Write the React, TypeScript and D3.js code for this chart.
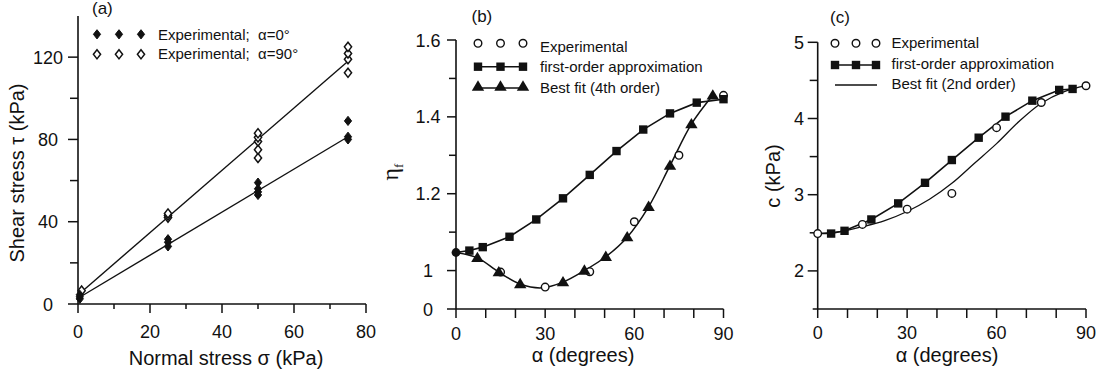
import React from "react";
import * as d3 from "d3";

// ---------- Panel (a): shear stress vs normal stress ----------
const sigmaA0 = [0.5, 0.5, 0.5, 25, 25, 25, 50, 50, 50, 50, 75, 75, 75];
const tauA0 = [2.5, 3.5, 4.5, 28, 30, 31.5, 53, 54.5, 56, 59, 80, 81.3, 89];
const sigmaA90 = [1, 25, 25, 25, 50, 50, 50, 50, 50, 75, 75, 75, 75];
const tauA90 = [6.5, 42, 43, 44, 71, 75, 79, 81, 83, 112.4, 119, 121.8, 125];
const fitSigma = [0, 75];
const fitTau0 = [2.8, 81.3];
const fitTau90 = [4.4, 118];
const xTicksA = [0, 20, 40, 60, 80];
const xMinorA = [10, 30, 50, 70];
const yTicksA = [0, 40, 80, 120];
const yMinorA = [20, 60, 100];

// ---------- Panel (b): eta_f vs alpha ----------
const expAlphaB = [15, 30, 45, 60, 75, 90];
const expEtaB = [0.996, 0.957, 0.997, 1.127, 1.3, 1.456];
const originEtaB = 1.047;
const firstAlphaB = [4.5, 9, 18, 27, 36, 45, 54, 63, 72, 81, 90];
const firstEtaB = [1.052, 1.061, 1.088, 1.133, 1.188, 1.249, 1.311, 1.367, 1.409, 1.437, 1.446];
const fitAlphaB = [7.2, 14.4, 21.6, 36, 43.2, 50.4, 57.6, 64.8, 72, 79.2, 86.4];
const fitEtaB = [1.033, 0.996, 0.965, 0.97, 1.0, 1.036, 1.087, 1.166, 1.273, 1.381, 1.456];
const curveAlphaB = [0, 7.2, 14.4, 21.6, 28.8, 36, 43.2, 50.4, 57.6, 64.8, 72, 79.2, 86.4];
const curveEtaB = [1.047, 1.033, 0.996, 0.965, 0.955, 0.97, 1.0, 1.036, 1.087, 1.166, 1.273, 1.381, 1.456];
const yTicksB = [0.9, 1, 1.2, 1.4, 1.6];
const yTickLabelsB = ["0", "1", "1.2", "1.4", "1.6"];
const yMinorB = [1.1, 1.3, 1.5];

// ---------- Panel (c): cohesion vs alpha ----------
const expAlphaC = [0, 15, 30, 45, 60, 75, 90];
const expCC = [2.49, 2.61, 2.81, 3.017, 3.88, 4.21, 4.43];
const firstAlphaC = [4.5, 9, 18, 27, 36, 45, 54, 63, 72, 81, 85.5];
const firstCC = [2.49, 2.526, 2.675, 2.886, 3.156, 3.455, 3.748, 4.024, 4.234, 4.375, 4.388];
const fitAlphaC = [0, 7.5, 15, 22.5, 30, 37.5, 45, 52.5, 60, 67.5, 75, 82.5, 90];
const fitCC = [2.49, 2.515, 2.58, 2.66, 2.78, 2.94, 3.15, 3.41, 3.67, 3.96, 4.2, 4.35, 4.43];
const yTicksC = [2, 3, 4, 5];
const yMinorC = [2.5, 3.5, 4.5];

const alphaTicks = [0, 10, 20, 30, 40, 50, 60, 70, 80, 90];
const alphaLabels = [0, 30, 60, 90];

const INK = "#111";
const SANS = "'Liberation Sans', Arial, Helvetica, sans-serif";

const diamond = "M0,-4.6L3.6,0L0,4.6L-3.6,0Z";
const triangle = "M0,-6.2L6.2,4.2L-6.2,4.2Z";
const square = "M-4.2,-4.2H4.2V4.2H-4.2Z";

const pairs = (xs: number[], ys: number[]) => xs.map((x, i) => [x, ys[i]] as [number, number]);

export default function App() {
  // scales
  const xA = d3.scaleLinear().domain([0, 80]).range([78, 366]);
  const yA = d3.scaleLinear().domain([0, 140]).range([304, 16]);
  const xB = d3.scaleLinear().domain([0, 90]).range([456, 723.5]);
  const yB = d3.scaleLinear().domain([0.9, 1.6]).range([309, 40]);
  const xC = d3.scaleLinear().domain([0, 90]).range([817.7, 1086]);
  const yC = d3.scaleLinear().domain([1.5, 5]).range([309, 42.3]);

  const lineA = d3.line<[number, number]>().x((d) => xA(d[0])).y((d) => yA(d[1]));
  const lineBStraight = d3.line<[number, number]>().x((d) => xB(d[0])).y((d) => yB(d[1]));
  const lineBSmooth = d3
    .line<[number, number]>()
    .x((d) => xB(d[0]))
    .y((d) => yB(d[1]))
    .curve(d3.curveCatmullRom.alpha(0.5));
  const lineCStraight = d3.line<[number, number]>().x((d) => xC(d[0])).y((d) => yC(d[1]));
  const lineCSmooth = d3
    .line<[number, number]>()
    .x((d) => xC(d[0]))
    .y((d) => yC(d[1]))
    .curve(d3.curveCatmullRom.alpha(0.5));

  const tickFont = 18;
  const titleFont = 20;
  const legendFont = 15;

  return (
    <svg
      width={1102}
      height={379}
      style={{ position: "absolute", left: 0, top: 0, background: "#fff" }}
      fontFamily={SANS}
    >
      <rect x={0} y={0} width={1102} height={379} fill="#fff" />

      {/* ===== Panel (a) ===== */}
      <g>
        <text x={92} y={14} fontSize={17} fill={INK}>(a)</text>
        {/* axes */}
        <line x1={xA(0)} x2={xA(0)} y1={yA(140)} y2={yA(0)} stroke={INK} strokeWidth={1.6} />
        <line x1={xA(0)} x2={xA(80)} y1={yA(0)} y2={yA(0)} stroke={INK} strokeWidth={1.6} />
        {xTicksA.map((t) => (
          <g key={"xa" + t}>
            <line x1={xA(t)} x2={xA(t)} y1={yA(0)} y2={yA(0) + 9} stroke={INK} strokeWidth={1.5} />
            <text x={xA(t)} y={338} fontSize={tickFont} textAnchor="middle" fill={INK}>{t}</text>
          </g>
        ))}
        {xMinorA.map((t) => (
          <line key={"xam" + t} x1={xA(t)} x2={xA(t)} y1={yA(0)} y2={yA(0) + 5} stroke={INK} strokeWidth={1.5} />
        ))}
        {yTicksA.map((t) => (
          <g key={"ya" + t}>
            <line x1={xA(0) - 10} x2={xA(0)} y1={yA(t)} y2={yA(t)} stroke={INK} strokeWidth={1.5} />
            <text x={48} y={yA(t) + 6.5} fontSize={tickFont} textAnchor="middle" fill={INK}>{t}</text>
          </g>
        ))}
        {yMinorA.map((t) => (
          <line key={"yam" + t} x1={xA(0) - 8} x2={xA(0)} y1={yA(t)} y2={yA(t)} stroke={INK} strokeWidth={1.5} />
        ))}
        <text x={226} y={365} fontSize={titleFont} textAnchor="middle" fill={INK}>
          Normal stress σ (kPa)
        </text>
        <text transform="translate(24,173) rotate(-90)" fontSize={titleFont} textAnchor="middle" fill={INK}>
          Shear stress τ (kPa)
        </text>
        {/* fitted lines */}
        <path d={lineA(pairs(fitSigma, fitTau0)) || ""} fill="none" stroke={INK} strokeWidth={1.4} />
        <path d={lineA(pairs(fitSigma, fitTau90)) || ""} fill="none" stroke={INK} strokeWidth={1.4} />
        {/* data */}
        {sigmaA90.map((s, i) => (
          <path key={"o" + i} d={diamond} transform={`translate(${xA(s)},${yA(tauA90[i])})`} fill="#fff" stroke={INK} strokeWidth={1.5} />
        ))}
        {sigmaA0.map((s, i) => (
          <path key={"f" + i} d={diamond} transform={`translate(${xA(s)},${yA(tauA0[i])})`} fill={INK} stroke={INK} strokeWidth={1} />
        ))}
        {/* legend */}
        {[97, 119, 141].map((x) => (
          <path key={"lf" + x} d={diamond} transform={`translate(${x},34.3)`} fill={INK} stroke={INK} strokeWidth={1} />
        ))}
        {[97, 119, 141].map((x) => (
          <path key={"lo" + x} d={diamond} transform={`translate(${x},54.3)`} fill="#fff" stroke={INK} strokeWidth={1.5} />
        ))}
        <text x={158} y={39.5} fontSize={legendFont} fill={INK}>
          {"Experimental;\u00a0\u00a0α=0°"}
        </text>
        <text x={158} y={59} fontSize={legendFont} fill={INK}>
          {"Experimental;\u00a0\u00a0α=90°"}
        </text>
      </g>

      {/* ===== Panel (b) ===== */}
      <g>
        <text x={471.5} y={22} fontSize={17} fill={INK}>(b)</text>
        <line x1={xB(0)} x2={xB(0)} y1={yB(1.6)} y2={yB(0.9)} stroke={INK} strokeWidth={1.6} />
        <line x1={xB(0)} x2={xB(90)} y1={yB(0.9)} y2={yB(0.9)} stroke={INK} strokeWidth={1.6} />
        {alphaTicks.map((t) => (
          <line key={"xb" + t} x1={xB(t)} x2={xB(t)} y1={yB(0.9)} y2={yB(0.9) + 9} stroke={INK} strokeWidth={1.5} />
        ))}
        {alphaLabels.map((t) => (
          <text key={"xbl" + t} x={xB(t)} y={340} fontSize={tickFont} textAnchor="middle" fill={INK}>{t}</text>
        ))}
        {yTicksB.map((t, i) => (
          <g key={"yb" + t}>
            <line x1={xB(0) - 9} x2={xB(0)} y1={yB(t)} y2={yB(t)} stroke={INK} strokeWidth={1.5} />
            <text x={428} y={yB(t) + 6.5} fontSize={tickFont} textAnchor="middle" fill={INK}>{yTickLabelsB[i]}</text>
          </g>
        ))}
        {yMinorB.map((t) => (
          <line key={"ybm" + t} x1={xB(0) - 7} x2={xB(0)} y1={yB(t)} y2={yB(t)} stroke={INK} strokeWidth={1.5} />
        ))}
        <text x={583} y={362} fontSize={titleFont} textAnchor="middle" fill={INK}>α (degrees)</text>
        <text
          transform="translate(398,172) rotate(-90)"
          fontSize={24}
          textAnchor="middle"
          fill={INK}
          fontFamily="'Liberation Serif', 'Times New Roman', serif"
        >
          η<tspan fontSize={13} dy={5}>f</tspan>
        </text>
        {/* curves */}
        <path
          d={lineBStraight(pairs([0, ...firstAlphaB], [originEtaB, ...firstEtaB])) || ""}
          fill="none"
          stroke={INK}
          strokeWidth={1.6}
        />
        <path d={lineBSmooth(pairs(curveAlphaB, curveEtaB)) || ""} fill="none" stroke={INK} strokeWidth={1.5} />
        {/* experimental */}
        {expAlphaB.map((a, i) => (
          <circle key={"eb" + i} cx={xB(a)} cy={yB(expEtaB[i])} r={3.8} fill="#fff" stroke={INK} strokeWidth={1.4} />
        ))}
        <circle cx={xB(0)} cy={yB(originEtaB)} r={4.4} fill={INK} />
        {firstAlphaB.map((a, i) => (
          <path key={"sb" + i} d={square} transform={`translate(${xB(a)},${yB(firstEtaB[i])})`} fill={INK} />
        ))}
        {fitAlphaB.map((a, i) => (
          <path key={"tb" + i} d={triangle} transform={`translate(${xB(a)},${yB(fitEtaB[i])})`} fill={INK} />
        ))}
        {/* legend */}
        {[478, 500.5, 523].map((x) => (
          <circle key={"lbc" + x} cx={x} cy={43.3} r={3.8} fill="#fff" stroke={INK} strokeWidth={1.4} />
        ))}
        <line x1={478} x2={523} y1={66.7} y2={66.7} stroke={INK} strokeWidth={1.6} />
        {[478, 500.5, 523].map((x) => (
          <path key={"lbs" + x} d={square} transform={`translate(${x},66.7)`} fill={INK} />
        ))}
        <line x1={478} x2={523} y1={88} y2={88} stroke={INK} strokeWidth={1.5} />
        {[478, 500.5, 523].map((x) => (
          <path key={"lbt" + x} d={triangle} transform={`translate(${x},86.5)`} fill={INK} />
        ))}
        <text x={540} y={51.5} fontSize={legendFont} fill={INK}>Experimental</text>
        <text x={540} y={71.5} fontSize={legendFont} fill={INK}>first-order approximation</text>
        <text x={540} y={93} fontSize={legendFont} fill={INK}>Best fit (4th order)</text>
      </g>

      {/* ===== Panel (c) ===== */}
      <g>
        <text x={830} y={23} fontSize={17} fill={INK}>(c)</text>
        <line x1={xC(0)} x2={xC(0)} y1={yC(5)} y2={yC(1.5)} stroke={INK} strokeWidth={1.6} />
        <line x1={xC(0) - 5} x2={xC(90)} y1={yC(1.5)} y2={yC(1.5)} stroke={INK} strokeWidth={1.6} />
        {alphaTicks.map((t) => (
          <line key={"xc" + t} x1={xC(t)} x2={xC(t)} y1={yC(1.5)} y2={yC(1.5) + 9} stroke={INK} strokeWidth={1.5} />
        ))}
        {alphaLabels.map((t) => (
          <text key={"xcl" + t} x={xC(t)} y={339} fontSize={tickFont} textAnchor="middle" fill={INK}>{t}</text>
        ))}
        {yTicksC.map((t) => (
          <g key={"yc" + t}>
            <line x1={xC(0) - 10} x2={xC(0)} y1={yC(t)} y2={yC(t)} stroke={INK} strokeWidth={1.5} />
            <text x={799} y={yC(t) + 6.5} fontSize={tickFont} textAnchor="middle" fill={INK}>{t}</text>
          </g>
        ))}
        {yMinorC.map((t) => (
          <line key={"ycm" + t} x1={xC(0) - 8} x2={xC(0)} y1={yC(t)} y2={yC(t)} stroke={INK} strokeWidth={1.5} />
        ))}
        <text x={947} y={362} fontSize={titleFont} textAnchor="middle" fill={INK}>α (degrees)</text>
        <text transform="translate(780,176) rotate(-90)" fontSize={titleFont} textAnchor="middle" fill={INK}>
          c (kPa)
        </text>
        {/* curves */}
        <path d={lineCSmooth(pairs(fitAlphaC, fitCC)) || ""} fill="none" stroke={INK} strokeWidth={1.3} />
        <path
          d={lineCStraight(pairs([0, ...firstAlphaC], [expCC[0], ...firstCC])) || ""}
          fill="none"
          stroke={INK}
          strokeWidth={1.6}
        />
        {firstAlphaC.map((a, i) => (
          <path key={"sc" + i} d={square} transform={`translate(${xC(a)},${yC(firstCC[i])})`} fill={INK} />
        ))}
        {expAlphaC.map((a, i) => (
          <circle key={"ec" + i} cx={xC(a)} cy={yC(expCC[i])} r={3.8} fill="#fff" stroke={INK} strokeWidth={1.4} />
        ))}
        {/* legend */}
        {[835, 856, 876].map((x) => (
          <circle key={"lcc" + x} cx={x} cy={43.3} r={3.8} fill="#fff" stroke={INK} strokeWidth={1.4} />
        ))}
        <line x1={835} x2={876} y1={65} y2={65} stroke={INK} strokeWidth={1.6} />
        {[835, 856, 876].map((x) => (
          <path key={"lcs" + x} d={square} transform={`translate(${x},65)`} fill={INK} />
        ))}
        <line x1={835} x2={877} y1={85} y2={85} stroke={INK} strokeWidth={1.3} />
        <text x={891.5} y={47.5} fontSize={legendFont} fill={INK}>Experimental</text>
        <text x={891.5} y={68.5} fontSize={legendFont} fill={INK}>first-order approximation</text>
        <text x={891.5} y={89} fontSize={legendFont} fill={INK}>Best fit (2nd order)</text>
      </g>
    </svg>
  );
}
